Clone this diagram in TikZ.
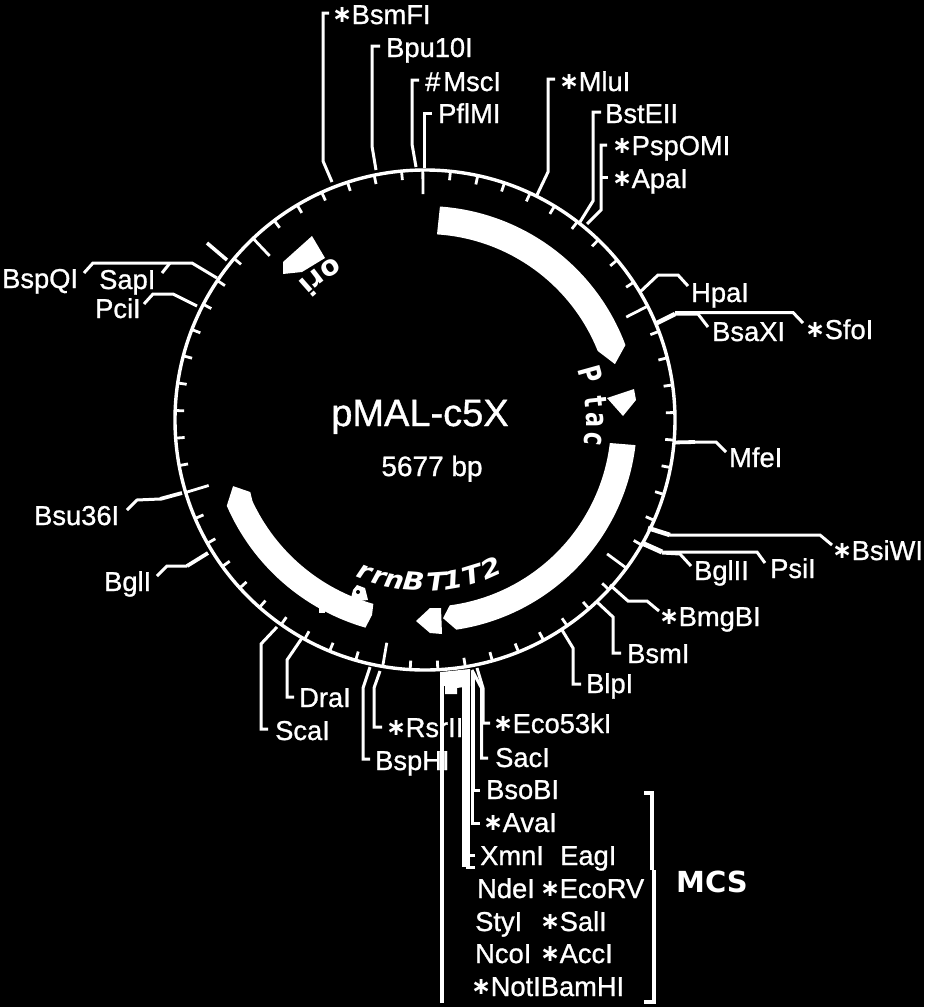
\documentclass[tikz,border=0pt]{standalone}
\usepackage{fontspec}
\usepackage{graphicx}
\setmainfont{Liberation Sans}[RawFeature={embolden=1.0}]
\newfontfamily\boldlab{DejaVu Sans Bold}
\newfontfamily\italab{DejaVu Sans Bold Oblique}
\newfontfamily\symfont{DejaVu Sans Bold}
\newcommand\stx{\makebox[16.5pt][l]{\hspace{-3pt}\raisebox{1.5pt}{\symfont\fontsize{24}{24}\selectfont ∗}}}
\tikzset{
  x=1pt,y=1pt,
  lab/.style={text=white,anchor=base west,inner sep=0pt,font=\fontsize{27.3}{27.3}\selectfont},
  lead/.style={draw=white,line width=3pt,line join=miter},
  thk/.style={draw=white,line width=4.6pt},
  ring/.style={draw=white,line width=3.4pt},
  tick/.style={draw=white,line width=2.8pt},
  feat/.style={fill=white},
  ltr/.style={text=white,anchor=base,inner sep=0pt},
}
\newcommand\letterat[6]{% name, font, char, bearing, radius, rotation
  \node[ltr,font=#2,rotate=#6] (#1) at ({90-(#4)}:#5pt) {#3};}
\newcommand\ptac{\boldlab\fontsize{31}{31}\selectfont}
\newcommand\oril{\boldlab\fontsize{28}{28}\selectfont}
\newcommand\rrnl{\italab\fontsize{25}{25}\selectfont}
\begin{document}
\begin{tikzpicture}
\useasboundingbox (0,-1007) rectangle (924,0);
\fill[black] (0,-1007) rectangle (924,0);

% --- ring and scale -------------------------------------------------
\begin{scope}[shift={(425pt,-420pt)}]
  \draw[ring] (0,0) circle (250pt);
  \foreach \i in {0,...,56}{
    \pgfmathsetmacro\a{90-(\i*6.3414-0.5)}
    \pgfmathtruncatemacro\m{mod(\i,10)}
    \ifnum\m=0
      \draw[tick] (\a:250pt) -- (\a:226pt);
    \else
      \draw[tick] (\a:250pt) -- (\a:241pt);
    \fi
  }
  % --- features ------------------------------------------------------
  \fill[feat] (86:214pt) arc[start angle=86,end angle=20.5,radius=214pt]
     -- (16.4:198pt) -- (21.8:186pt)
     arc[start angle=21.8,end angle=86.3,radius=186pt] -- cycle;
  \fill[feat] (-6.8:212pt) arc[start angle=-6.8,end angle=-81.5,radius=212pt]
     -- (-84.8:199pt) -- (-82.4:187pt)
     arc[start angle=-82.4,end angle=-6.8,radius=186pt] -- cycle;
  \fill[feat] (-156.6:216pt) arc[start angle=-156.6,end angle=-106,radius=216pt]
     -- (-105.2:202pt) -- (-105.7:191pt)
     arc[start angle=-105.7,end angle=-155,radius=190pt]
     -- (-157.6:189pt) -- (-161:203pt) -- cycle;

  \letterat{tP}{\ptac}{\scalebox{.72}[1]{P}}{74.5}{161}{-74.5}
  \letterat{tt}{\ptac}{\scalebox{.72}[1]{t}}{84}{161}{-84}
  \letterat{ta}{\ptac}{\scalebox{.72}[1]{a}}{90}{161}{-90}
  \letterat{tc}{\ptac}{\scalebox{.72}[1]{c}}{96.5}{161}{-96.5}

  \letterat{oo}{\oril}{o}{328}{187}{-148}
  \letterat{or}{\oril}{r}{322.5}{187}{-142.5}
  \letterat{oi}{\oril}{i}{318.5}{187}{-138.5}

  \letterat{r1}{\rrnl}{\scalebox{1.1}[1]{r}}{201.8}{171}{-21.8}
  \letterat{r2}{\rrnl}{\scalebox{1.1}[1]{r}}{196.2}{171}{-16.2}
  \letterat{r3}{\rrnl}{\scalebox{1.1}[1]{n}}{190.8}{171}{-10.8}
  \letterat{r4}{\rrnl}{\scalebox{1.15}[1]{B}}{184}{171}{-4}
  \letterat{r5}{\rrnl}{\scalebox{1.15}[1]{T}}{176}{171}{4}
  \letterat{r6}{\rrnl}{\scalebox{1.15}[1]{1}}{170}{171}{10}
  \letterat{r7}{\rrnl}{\scalebox{1.15}[1]{T}}{163}{171}{17}
  \letterat{r8}{\rrnl}{\scalebox{1.15}[1]{2}}{156}{171}{24}
\end{scope}

% arrow pieces
\fill[feat] (607,-398) -- (634,-389) -- (636,-400) -- (623,-416) -- cycle;
\fill[feat] (416,-621) -- (430,-608) -- (441,-608) -- (442,-634) -- (430,-633) -- cycle;
\fill[feat] (283,-262) -- (312,-236) -- (325,-258) -- (302,-272) -- (283,-274) -- cycle;
% remains of a hidden label on the lower left feature
\fill[feat] (353,-590) -- (357,-585) -- (365,-588) -- (368,-600) -- (350,-602) -- cycle;
\fill[black] (358,-592) circle (2pt);
\fill[feat] (319,-607) rectangle (325,-613);
% clustered site block at the bottom
\fill[feat] (441,-672) -- (470,-669) -- (470,-686) -- (457,-688) -- (457,-694) -- (445,-694) -- (445,-686) -- (441,-685) -- cycle;

% --- centre ---------------------------------------------------------
\node[text=white,anchor=base,inner sep=0pt,font=\fontsize{38}{38}\selectfont] (title) at (420,-426) {pMAL-c5X};
\node[text=white,anchor=base,inner sep=0pt,font=\fontsize{28}{28}\selectfont] (size) at (432,-476) {5677 bp};

% --- labels ---------------------------------------------------------
\node[lab] (BsmFI) at (335,-24) {\stx BsmFI};
\node[lab] (Bpu) at (386,-57) {Bpu10I};
\node[lab] (Msc) at (425,-91) {\#\kern3pt MscI};
\node[lab] (Pfl) at (438,-123) {PflMI};
\node[lab] (Mlu) at (562,-91) {\stx MluI};
\node[lab] (Bst) at (605,-123) {BstEII};
\node[lab] (Psp) at (615,-155) {\stx PspOMI};
\node[lab] (Apa) at (615,-188) {\stx ApaI};
\node[lab] (Hpa) at (691,-302) {HpaI};
\node[lab] (BsaX) at (712,-341) {BsaXI};
\node[lab] (Sfo) at (808,-339) {\stx SfoI};
\node[lab] (Mfe) at (729,-467) {MfeI};
\node[lab] (BsiW) at (835,-560) {\stx BsiWI};
\node[lab] (Bgl2) at (694,-580) {BglII};
\node[lab] (Psi) at (770,-578) {PsiI};
\node[lab] (Bmg) at (662,-626) {\stx BmgBI};
\node[lab] (Bsm) at (627,-663) {BsmI};
\node[lab] (Blp) at (586,-693) {BlpI};
\node[lab] (Dra) at (299,-707) {DraI};
\node[lab] (Sca) at (275,-740) {ScaI};
\node[lab] (BspH) at (375,-770) {BspHI};
\node[lab] (Rsr) at (389,-737) {\stx RsrII};
\node[lab] (Eco53) at (496,-733) {\stx Eco53kI};
\node[lab] (Sac) at (495,-767) {SacI};
\node[lab] (BsoB) at (486,-799) {BsoBI};
\node[lab] (Ava) at (486,-832) {\stx AvaI};
\node[lab] (Xmn) at (480,-865) {XmnI};
\node[lab] (Eag) at (560,-865) {EagI};
\node[lab] (Nde) at (477,-898) {NdeI};
\node[lab] (EcoRV) at (543,-898) {\stx EcoRV};
\node[lab] (Sty) at (475,-931) {StyI};
\node[lab] (Sal) at (543,-931) {\stx SalI};
\node[lab] (Nco) at (475,-963) {NcoI};
\node[lab] (Acc) at (543,-963) {\stx AccI};
\node[lab] (Not) at (474,-996) {\stx NotIBamHI};
\node[lab] (BspQ) at (2,-288) {BspQI};
\node[lab] (Sap) at (99,-289) {SapI};
\node[lab] (Pci) at (95,-318) {PciI};
\node[lab] (Bsu) at (34,-525) {Bsu36I};
\node[lab] (BglI) at (104,-591) {BglI};
\node[text=white,anchor=base west,inner sep=0pt,font=\boldlab\fontsize{29}{29}\selectfont] (MCS) at (676,-892) {MCS};

% --- leaders --------------------------------------------------------
\coordinate (eBsm) at (329,-13);
\draw[lead] (332,-182) -- (323,-161) -- (323,-13) -- (eBsm);
\coordinate (eBpu) at (380,-46);
\draw[lead] (376,-170) -- (372,-146) -- (372,-46) -- (eBpu);
\coordinate (eMsc) at (419,-80);
\draw[lead] (416,-167) -- (412,-144) -- (412,-80) -- (eMsc);
\coordinate (ePfl) at (432,-113);
\draw[lead] (424,-168) -- (424,-113) -- (ePfl);
\coordinate (eMlu) at (555,-79);
\draw[lead] (537,-195) -- (548,-172) -- (548,-79) -- (eMlu);
\coordinate (eBst) at (601,-112);
\draw[lead] (580,-222) -- (593,-201) -- (593,-112) -- (eBst);
\coordinate (ePsp) at (607,-145);
\coordinate (eApa) at (608,-177);
\draw[lead] (587,-224) -- (601,-210) -- (601,-145) -- (ePsp);
\draw[lead] (601,-177) -- (eApa);
\coordinate (eHpa) at (688,-286);
\draw[lead] (640,-292) -- (658,-275) -- (678,-275) -- (eHpa);
\coordinate (eBsaX) at (708,-327);
\coordinate (eSfo) at (803,-323);
\draw[thk] (655,-324) -- (675,-314);
\draw[lead] (675,-314) -- (698,-314) -- (eBsaX);
\draw[lead] (675,-312.5) -- (793,-312.5) -- (eSfo);
\coordinate (eMfe) at (726,-452);
\draw[thk,line width=3.8pt] (673,-442.5) -- (695,-442);
\draw[lead] (695,-442) -- (716,-442) -- (eMfe);
\coordinate (eBsiW) at (832,-545);
\draw[thk] (648,-528) -- (670,-535);
\draw[lead] (670,-535) -- (820,-535) -- (eBsiW);
\coordinate (eBgl2) at (691,-566);
\coordinate (ePsi) at (765,-563);
\draw[thk,line width=5pt] (642,-543) -- (662,-552);
\draw[lead] (662,-553) -- (680,-554) -- (eBgl2);
\draw[lead] (662,-552) -- (757,-552) -- (ePsi);
\coordinate (eBmg) at (659,-611);
\draw[lead] (610,-585) -- (628,-601) -- (647,-601) -- (eBmg);
\coordinate (eBsmI) at (621,-653);
\draw[lead] (597,-602) -- (613,-617) -- (613,-653) -- (eBsmI);
\coordinate (eBlp) at (581,-684);
\draw[lead] (562,-630) -- (573,-648) -- (573,-684) -- (eBlp);
\coordinate (eDra) at (294,-697);
\draw[lead] (302,-638) -- (287,-660) -- (287,-697) -- (eDra);
\coordinate (eSca) at (268,-729);
\draw[lead] (277,-627) -- (261,-644) -- (261,-729) -- (eSca);
\coordinate (eBspH) at (370,-759);
\draw[lead] (370,-667) -- (363,-688) -- (363,-759) -- (eBspH);
\coordinate (eRsr) at (382,-727);
\draw[lead] (380,-671) -- (374,-688) -- (374,-727) -- (eRsr);
\coordinate (eEco) at (490,-723);
\draw[lead] (477,-668) -- (483,-688) -- (483,-723) -- (eEco);
\coordinate (eSac) at (488,-758);
\draw[lead] (472,-670) -- (481.5,-688) -- (481.5,-758) -- (eSac);
\coordinate (eBso) at (480,-790);
\coordinate (eAva) at (480,-823);
\draw[lead] (473,-672) -- (473,-790) -- (eBso);
\draw[lead] (472,-672) -- (472,-823) -- (eAva);
\coordinate (eXa) at (475,-855);
\coordinate (eXb) at (475,-867);
\draw[line width=8pt,draw=white] (466,-672) -- (466,-867);
\draw[lead] (466,-855) -- (eXa);
\draw[lead] (466,-867) -- (eXb);
\coordinate (eLong) at (442,-1003);
\draw[draw=white,line width=4pt] (442,-672) -- (eLong);
\coordinate (eBspQ) at (84,-273);
\coordinate (eSap) at (162,-273);
\draw[lead] (217,-278) -- (192,-263) -- (93,-263) -- (eBspQ);
\draw[lead] (170,-263) -- (eSap);
\coordinate (ePci) at (144,-304);
\draw[lead] (197,-306) -- (173,-294) -- (153,-294) -- (ePci);
\coordinate (eBsu) at (127,-510);
\draw[thk,line width=3.8pt] (182,-493) -- (160,-499);
\draw[lead] (160,-499) -- (137,-500) -- (eBsu);
\coordinate (eBglI) at (157,-576);
\draw[thk,line width=3.8pt] (208,-553) -- (187,-566);
\draw[lead] (187,-566) -- (167,-566) -- (eBglI);
\coordinate (eOut) at (207,-243);
\draw[thk,line width=3.6pt] (227,-260) -- (eOut);

% --- MCS bracket ----------------------------------------------------
\coordinate (bTop) at (644,-793);
\coordinate (bBot) at (644,-1002);
\draw[draw=white,line width=4pt] (bTop) -- (652,-793) -- (652,-870);
\draw[draw=white,line width=4pt] (654,-870) -- (654,-1002) -- (bBot);
\end{tikzpicture}
\end{document}
